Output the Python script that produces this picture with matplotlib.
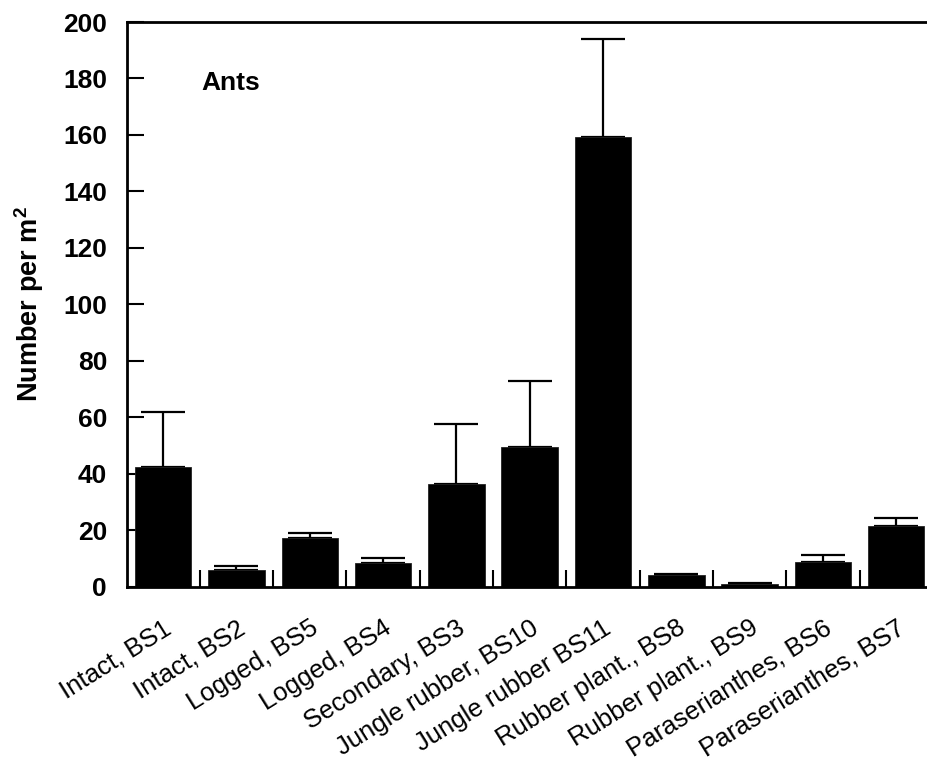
import matplotlib
matplotlib.use("Agg")
import matplotlib.pyplot as plt
import matplotlib.transforms as mtransforms
import numpy as np

plt.rcParams['font.family'] = ['Liberation Sans', 'DejaVu Sans']
plt.rcParams['mathtext.fontset'] = 'custom'
plt.rcParams['mathtext.rm'] = 'Liberation Sans'
plt.rcParams['mathtext.bf'] = 'Liberation Sans:bold'

# Ant abundance per site
sites = ["Intact, BS1", "Intact, BS2", "Logged, BS5", "Logged, BS4",
         "Secondary, BS3", "Jungle rubber, BS10", "Jungle rubber BS11",
         "Rubber plant., BS8", "Rubber plant., BS9",
         "Paraserianthes, BS6", "Paraserianthes, BS7"]
means = [42.3, 5.9, 17.1, 8.5, 36.4, 49.6, 159.2, 4.0, 1.0, 8.6, 21.5]
se_upper = [19.7, 1.4, 2.0, 1.8, 21.1, 23.4, 34.8, 0.5, 0.3, 2.7, 3.0]
yticks = [0, 20, 40, 60, 80, 100, 120, 140, 160, 180, 200]

fig = plt.figure(figsize=(9.27, 7.71), dpi=100)
ax = fig.add_axes([126.5 / 927, 1 - 586.7 / 771, 1 - 126.5 / 927, (586.7 - 22) / 771])

x = np.arange(len(sites))
ax.errorbar(x, means, yerr=[np.zeros(len(sites)), se_upper], fmt='none',
            ecolor='black', elinewidth=1.6, capsize=15.5, capthick=1.6, zorder=1)
ax.bar(x, means, width=0.77, color='black', edgecolor='#222222', linewidth=0.6, zorder=2)

ax.set_xlim(-0.5, 10.42)
ax.set_ylim(0, 200)

ax.set_yticks(yticks)
ax.set_yticklabels([str(v) for v in yticks], fontsize=19, fontweight='bold')
ax.tick_params(axis='y', direction='in', length=12, width=1.5, pad=14)

ax.set_xticks(x)
ax.set_xticklabels(sites, rotation=32, ha='right', va='top', rotation_mode='anchor',
                   fontsize=18.5)
shift = mtransforms.ScaledTranslation(12 / 100, 0, fig.dpi_scale_trans)
for lbl in ax.get_xticklabels():
    lbl.set_transform(lbl.get_transform() + shift)
ax.set_xticks(np.arange(len(sites) - 1) + 0.5, minor=True)
ax.tick_params(axis='x', which='major', length=0, pad=21)
ax.tick_params(axis='x', which='minor', direction='in', length=12, width=1.5)

for side in ['left', 'bottom', 'top']:
    ax.spines[side].set_linewidth(2)
ax.spines['right'].set_visible(False)

ax.set_ylabel(r'Number per m$^\mathbf{2}$', fontsize=19.5, fontweight='bold', labelpad=12)
ax.text(0.527, 176, "Ants", fontsize=19, fontweight='bold', ha='left', va='baseline')

fig.savefig("out.png", dpi=100)
